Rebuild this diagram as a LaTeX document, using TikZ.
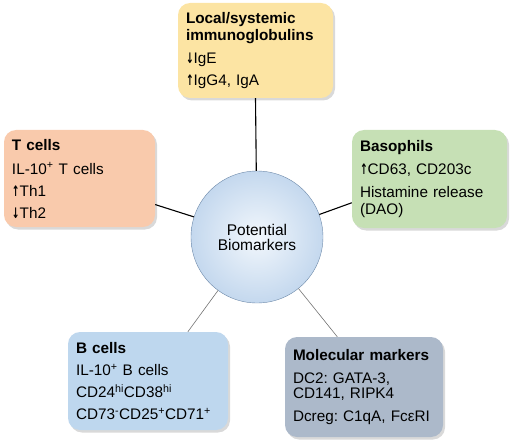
\documentclass[tikz,border=0pt]{standalone}
\usepackage{fontspec}
\setmainfont{Liberation Sans}
\newfontfamily\arrowfont{DejaVu Sans}
\usepackage{tikz}
\usetikzlibrary{shadows}
\frenchspacing
\definecolor{BMYellow}{RGB}{252,228,163}
\definecolor{BMPeach}{RGB}{249,202,172}
\definecolor{BMGreen}{RGB}{198,224,181}
\definecolor{BMBlue}{RGB}{190,215,238}
\definecolor{BMSlate}{RGB}{172,185,202}
\definecolor{BMEdge}{RGB}{110,138,170}
\definecolor{BMInner}{RGB}{242,247,252}
\definecolor{BMOuter}{RGB}{196,216,238}
\newcommand{\upar}{{\arrowfont\bfseries\scalebox{0.6}[0.95]{↑}}}
\newcommand{\dnar}{{\arrowfont\bfseries\scalebox{0.6}[0.95]{↓}}}

\begin{document}
\begin{tikzpicture}[x=1pt, y=-1pt,
          box/.style={rectangle, rounded corners=12pt, align=left,
                      inner sep=8pt, font=\fontsize{15.3}{17}\selectfont,
                      drop shadow={opacity=0.3, shadow xshift=2pt,
                                   shadow yshift=-2.5pt}},
          hub/.style={circle, draw=BMEdge, thin, minimum size=132pt,
                      inner color=BMInner, outer color=BMOuter,
                      align=center, font=\fontsize{15.5}{15}\selectfont},
          link/.style={black, line width=1.1pt},
          thinlink/.style={black!55, line width=0.6pt}
        ]
        \useasboundingbox (0,0) rectangle (514,441);

        % centre
        \node[hub] (bio) at (257,237) {Potential\\Biomarkers};

        % marker groups
        \node[box, fill=BMYellow, text width=139pt, minimum height=95pt]
              (ig) at (255.5,50.5)
              {\textbf{Local/systemic}\\\textbf{immunoglobulins}\\[6pt]
               \dnar IgE\\[5pt]\upar IgG4, IgA};
        \node[box, fill=BMPeach, text width=135pt, minimum height=97pt]
              (tc) at (79.5,178.5)
              {\textbf{T cells}\\[7pt]IL-10\textsuperscript{+} T cells\\[5pt]
               \upar Th1\\[5pt]\dnar Th2};
        \node[box, fill=BMGreen, text width=139pt, minimum height=98pt]
              (baso) at (429.5,179)
              {\textbf{Basophils}\\[6pt]\upar CD63, CD203c\\[6pt]
               Histamine release\\(DAO)};
        \node[box, fill=BMBlue, text width=144pt, minimum height=98pt]
              (bc) at (148,381)
              {\textbf{B cells}\\[5pt]IL-10\textsuperscript{+} B cells\\[5pt]
               CD24\textsuperscript{hi}CD38\textsuperscript{hi}\\[5pt]
               CD73\textsuperscript{-}CD25\textsuperscript{+}CD71\textsuperscript{+}};
        \node[box, fill=BMSlate, text width=142pt, minimum height=100pt]
              (mol) at (364,387)
              {\textbf{Molecular markers}\\[6pt]DC2: GATA-3,\\[-2pt]
               CD141, RIPK4\\[6pt]Dcreg: C1qA, FcεRI};

        % connectors
        \draw[link] (ig.south) -- (bio);
        \draw[link] (tc.-19) -- (bio);
        \draw[link] (baso.197) -- (bio);
        \draw[thinlink] (bc.51) -- (bio);
        \draw[thinlink] (mol.118) -- (bio);
      \end{tikzpicture}
\end{document}
